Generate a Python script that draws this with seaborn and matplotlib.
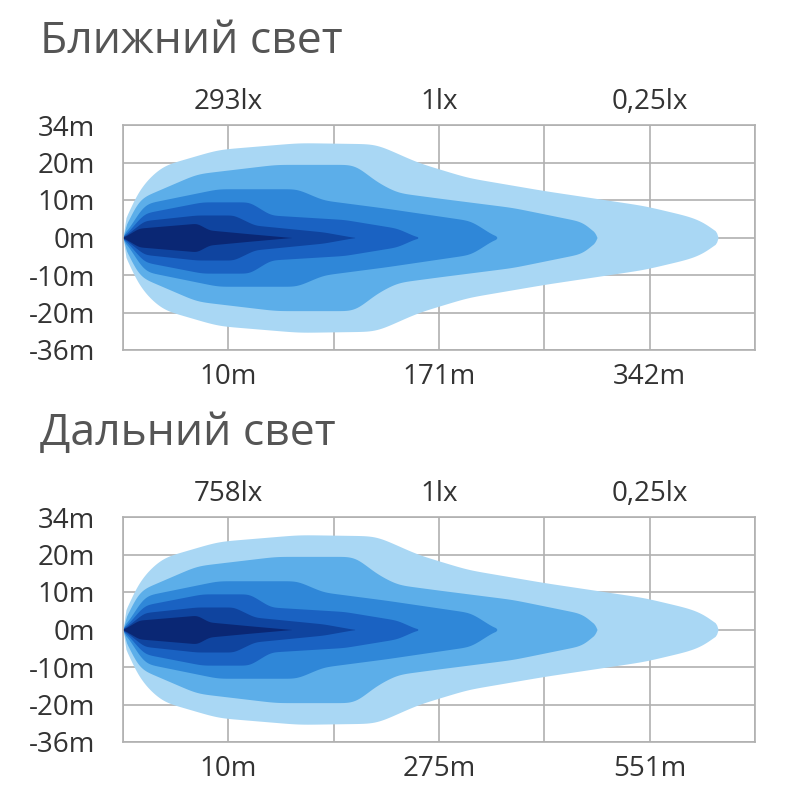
import matplotlib
matplotlib.use("Agg")
import matplotlib.pyplot as plt
import seaborn as sns
import numpy as np

sns.set_theme(style="white")
plt.rcParams['font.family'] = ['Open Sans', 'DejaVu Sans']

titles = ["Ближний свет", "Дальний свет"]
lux_labels = [["293lx", "1lx", "0,25lx"], ["758lx", "1lx", "0,25lx"]]
dist_labels = [["10m", "171m", "342m"], ["10m", "275m", "551m"]]
y_labels = ["34m", "20m", "10m", "0m", "-10m", "-20m", "-36m"]
colors = ["#a9d7f4", "#5caee9", "#2f87d8", "#1a62c2", "#0f449f", "#0a2774"]

layer_x = [
    [0, 0.07, 0.35, 0.9, 1.67, 2.4, 2.8, 3.27, 4.0, 4.95, 5.4, 5.6, 5.65],
    [0, 0.12, 0.7, 1.45, 2.2, 2.4, 2.6, 3.0, 3.7, 4.4, 4.5],
    [0, 0.2, 0.9, 1.65, 1.9, 2.5, 3.3, 3.55],
    [0, 0.2, 0.75, 1.2, 1.4, 2.1, 2.6, 2.8],
    [0, 0.2, 0.7, 1.05, 1.25, 1.9, 2.2],
    [0, 0.15, 0.7, 0.82, 1.2, 1.6],
]
layer_hw = [
    [0, 1.05, 1.9, 2.35, 2.53, 2.5, 2.0, 1.6, 1.25, 0.85, 0.55, 0.3, 0],
    [0, 1.0, 1.7, 1.95, 1.95, 1.5, 1.2, 1.05, 0.8, 0.4, 0],
    [0, 0.9, 1.3, 1.3, 1.0, 0.78, 0.45, 0],
    [0, 0.65, 0.95, 0.95, 0.6, 0.48, 0.25, 0],
    [0, 0.45, 0.6, 0.6, 0.33, 0.15, 0],
    [0, 0.25, 0.38, 0.2, 0.1, 0],
]

def smooth_outline(xs, hw):
    xd = np.linspace(xs[0], xs[-1], 400)
    hd = np.interp(xd, xs, hw)
    k = np.exp(-0.5 * (np.arange(-15, 16) / 6.0) ** 2); k /= k.sum()
    pad = np.concatenate([np.zeros(15), hd, np.zeros(15)])
    hs = np.convolve(pad, k, mode='valid')
    hs = np.maximum(hs, 0)
    hs[0] = 0; hs[-1] = 0
    # keep rounded start near origin
    return xd, np.minimum(hs, hd * 1.2 + 0.02)

fig = plt.figure(figsize=(8, 8), dpi=100)
tops = [125, 517]
for p in range(2):
    top = tops[p]
    ax = fig.add_axes([123/800, 1-(top+225)/800, 632/800, 225/800])
    ax.set_xlim(0, 6)
    ax.set_ylim(-3, 3)
    for i in range(len(layer_x)):
        xd, hs = smooth_outline(np.array(layer_x[i], float), np.array(layer_hw[i], float))
        ax.fill_between(xd, -hs, hs, color=colors[i], lw=0, zorder=2)
    ax.set_xticks(range(7))
    ax.set_yticks(range(-3, 4))
    ax.grid(True, color="#b0b0b0", lw=1.2, zorder=1)
    ax.set_axisbelow(True)
    for s in ax.spines.values():
        s.set_color("#b0b0b0"); s.set_linewidth(1.2)
    ax.set_xticklabels([])
    ax.set_yticklabels(y_labels[::-1], fontsize=20, color="#333333")
    ax.tick_params(axis='y', length=0, pad=20)
    ax.tick_params(axis='x', length=0)
    for k, xp in enumerate([1, 3, 5]):
        ax.text(xp, 3.25, lux_labels[p][k], ha='center', va='bottom', fontsize=20, color="#333333")
        ax.text(xp, -3.35, dist_labels[p][k], ha='center', va='top', fontsize=20, color="#333333")
    fig.text(40/800, 1-(top-83)/800, titles[p], fontsize=32, color="#555555", va='center', ha='left')

fig.savefig("out.png", dpi=100)
